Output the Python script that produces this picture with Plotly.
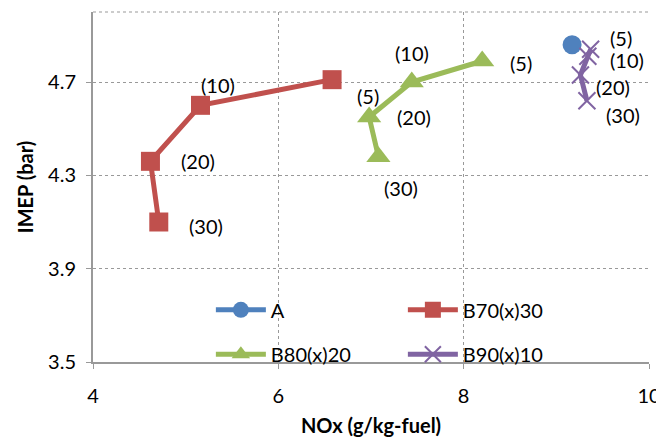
import plotly.graph_objects as go

# ---- data ----
a_x = [9.17]
a_y = [4.86]
b70_x = [6.58, 5.16, 4.62, 4.71]
b70_y = [4.71, 4.60, 4.36, 4.10]
b80_x = [8.20, 7.44, 6.98, 7.08]
b80_y = [4.79, 4.70, 4.55, 4.38]
b90_x = [9.37, 9.34, 9.26, 9.33]
b90_y = [4.84, 4.81, 4.73, 4.62]
point_labels = ["(5)", "(10)", "(20)", "(30)"]

FONT = "Lato"
FS = 20
BLUE, RED, GREEN, PURPLE = "#4F81BD", "#C0504D", "#9BBB59", "#8064A2"

fig = go.Figure()
fig.add_trace(go.Scatter(x=a_x, y=a_y, name="A", mode="lines+markers",
                         line=dict(color=BLUE, width=5),
                         marker=dict(symbol="circle", size=19, color=BLUE),
                         legend="legend"))
fig.add_trace(go.Scatter(x=b70_x, y=b70_y, name="B70(x)30", mode="lines+markers",
                         line=dict(color=RED, width=5),
                         marker=dict(symbol="square", size=19, color=RED),
                         legend="legend"))
fig.add_trace(go.Scatter(x=b80_x, y=b80_y, name="B80(x)20", mode="lines+markers",
                         line=dict(color=GREEN, width=5),
                         marker=dict(symbol="triangle-up", size=21, color=GREEN),
                         legend="legend2"))
fig.add_trace(go.Scatter(x=b90_x, y=b90_y, name="B90(x)10", mode="lines+markers",
                         line=dict(color=PURPLE, width=5),
                         marker=dict(symbol="x-thin", size=17,
                                     line=dict(color=PURPLE, width=2), color=PURPLE),
                         legend="legend2"))

# label offsets (pixels) per series
offs = {
    "b70": [(36, -16), (18, 20), (48, 0), (47, -4)],
    "b80": [(39, -2), (0, 29), (45, 0), (23, -31)],
    "b90": [(30, 11), (39, -4), (33, -12), (36, -14)],
}
for key, xs, ys in [("b70", b70_x, b70_y), ("b80", b80_x, b80_y), ("b90", b90_x, b90_y)]:
    for i, (xv, yv) in enumerate(zip(xs, ys)):
        dx, dy = offs[key][i]
        fig.add_annotation(x=xv, y=yv, text=point_labels[i], showarrow=False,
                           xshift=dx, yshift=dy,
                           font=dict(family=FONT, size=FS, color="black"))

# top dotted border
fig.add_shape(type="line", xref="paper", yref="paper", x0=0, x1=1, y0=1, y1=1,
              line=dict(color="#999999", width=1, dash="dot"))

legend_common = dict(orientation="h", xanchor="left", yanchor="middle",
                     font=dict(family=FONT, size=FS, color="black"),
                     bgcolor="rgba(255,255,255,0)", entrywidth=127,
                     itemwidth=50)
fig.update_layout(
    width=656, height=429,
    margin=dict(l=85, r=15, t=4, b=75, autoexpand=False),
    paper_bgcolor="white", plot_bgcolor="white",
    font=dict(family=FONT, size=FS, color="black"),
    legend=dict(x=0.212, y=0.149, **legend_common),
    legend2=dict(x=0.212, y=0.022, **legend_common),
    xaxis=dict(range=[4, 10], dtick=2, tick0=4, showgrid=True, automargin=False,
               gridcolor="#999999", griddash="dot", gridwidth=1,
               showline=True, linecolor="#999999", linewidth=2,
               ticks="outside", ticklen=5, tickcolor="#999999",
               ticklabelstandoff=10,
               tickfont=dict(family=FONT, size=FS),
               title=dict(text="<b>NOx (g/kg-fuel)</b>", font=dict(family=FONT, size=FS),
                          standoff=16),
               zeroline=False),
    yaxis=dict(range=[3.5, 5.0], dtick=0.4, tick0=3.5, showgrid=True, automargin=False,
               gridcolor="#999999", griddash="dot", gridwidth=1,
               showline=True, linecolor="#999999", linewidth=2,
               ticks="outside", ticklen=5, tickcolor="#999999",
               ticklabelstandoff=6,
               tickformat=".1f",
               tickfont=dict(family=FONT, size=FS),
               title=dict(text="<b>IMEP (bar)</b>", font=dict(family=FONT, size=FS),
                          standoff=9),
               zeroline=False),
)

fig.write_html("out.html")
